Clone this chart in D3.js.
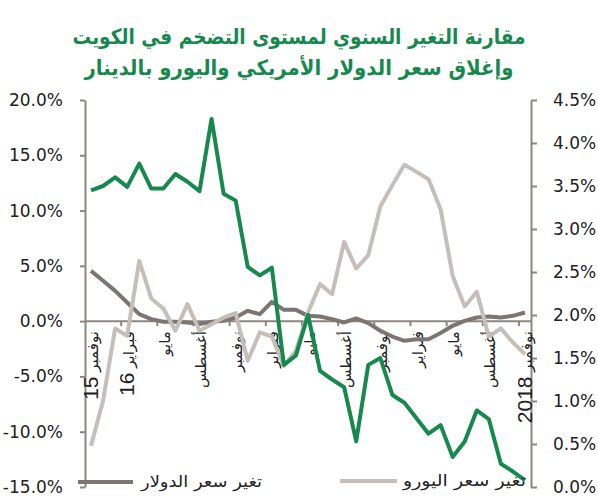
<!DOCTYPE html>
<html><head><meta charset="utf-8">
<script src="https://cdn.jsdelivr.net/npm/d3@7/dist/d3.min.js"></script>
<style>body{margin:0;background:#fff}svg{display:block}</style>
</head><body>
<svg id="c" width="598" height="500"></svg>
<script>
// ---- data ----
const monthNames = ["نوفمبر","ديسمبر","يناير","فبراير","مارس","أبريل","مايو","يونيو","يوليو","أغسطس","سبتمبر","أكتوبر"];
const categories = d3.range(37).map(i => monthNames[i % 12]); // Nov 2015 .. Nov 2018
const yearTags = {0: "15", 3: "16", 36: "2018"};
const inflation = [3.45,3.50,3.60,3.49,3.76,3.47,3.47,3.64,3.55,3.44,4.28,3.41,3.33,2.56,2.46,2.55,1.42,1.53,2.00,1.35,1.25,1.16,0.53,1.42,1.50,1.07,0.98,0.80,0.62,0.72,0.35,0.53,0.89,0.79,0.27,0.18,0.08];
const usdChange = [4.55,3.65,2.74,1.69,0.63,0.18,-0.06,-0.06,-0.12,-0.27,-0.06,0.03,0.33,0.93,0.63,1.75,1.02,1.02,0.48,0.42,0.18,-0.12,0.24,-0.18,-0.87,-1.39,-1.78,-1.63,-1.63,-1.08,-0.42,0.03,0.33,0.42,0.33,0.48,0.78];
const eurChange = [-11.27,-7.2,-0.66,-1.33,5.45,2.05,1.15,-0.87,1.54,-0.87,-0.27,0.33,0.72,-3.59,-1.02,-1.39,-4.04,-2.68,0.78,3.35,2.44,7.17,4.76,5.97,10.37,12.3,14.14,13.5,12.84,10.13,4.1,1.33,2.65,-1.39,-0.66,-1.93,-2.98];
const leftTicks = [-15,-10,-5,0,5,10,15,20];
const rightTicks = [0,0.5,1,1.5,2,2.5,3,3.5,4,4.5];
const titleLines = ["مقارنة التغير السنوي لمستوى التضخم في الكويت","وإغلاق سعر الدولار الأمريكي واليورو بالدينار"];
const legendLabels = ["تغير سعر الدولار","تغير سعر اليورو"];

// ---- styles ----
const GREEN = "#17894f", USD = "#7d7571", EUR = "#c5beb9", AXIS = "#8c8682", TXT = "#222";

const svg = d3.select("#c");
const x = d3.scaleBand().domain(d3.range(categories.length)).range([85, 531]);
const cx = i => x(i) + x.bandwidth() / 2;
const yL = d3.scaleLinear().domain([-15, 20]).range([487, 100]);
const yR = d3.scaleLinear().domain([0, 4.5]).range([487, 100]);

// title
const titleWidths = [453, 429];
svg.append("g").selectAll("text").data(titleLines).join("text")
  .attr("x", 299).attr("y", (d, i) => 44 + i * 31)
  .attr("text-anchor", "middle")
  .attr("textLength", (d, i) => titleWidths[i]).attr("lengthAdjust", "spacingAndGlyphs")
  .attr("font-family", "DejaVu Sans, sans-serif").attr("font-weight", "bold")
  .attr("font-size", 21).attr("fill", GREEN)
  .text(d => d);

// left axis
const gl = svg.append("g").attr("transform", "translate(85,0)")
  .call(d3.axisLeft(yL).tickValues(leftTicks).tickFormat(d => d.toFixed(1) + "%").tickSize(5).tickSizeOuter(0).tickPadding(17));
// right axis
const gr = svg.append("g").attr("transform", "translate(531,0)")
  .call(d3.axisRight(yR).tickValues(rightTicks).tickFormat(d => d.toFixed(1) + "%").tickSize(6).tickSizeOuter(0).tickPadding(16));
[gl, gr].forEach(g => {
  g.select(".domain").attr("stroke", AXIS).attr("stroke-width", 2);
  g.selectAll(".tick line").attr("stroke", AXIS).attr("stroke-width", 2);
  g.selectAll(".tick text").attr("font-family", "DejaVu Sans, sans-serif").attr("font-size", 17).attr("fill", TXT);
});

// category axis at zero
const y0 = yL(0);
svg.append("line").attr("x1", 85).attr("x2", 531).attr("y1", y0).attr("y2", y0)
  .attr("stroke", AXIS).attr("stroke-width", 2);
const tickIdx = d3.range(3, categories.length + 1, 3);
svg.append("g").selectAll("line").data(tickIdx).join("line")
  .attr("x1", d => 85 + d * x.step()).attr("x2", d => 85 + d * x.step())
  .attr("y1", y0).attr("y2", y0 + 5).attr("stroke", AXIS).attr("stroke-width", 2);
const labIdx = d3.range(0, categories.length, 3);
const labs = svg.append("g").selectAll("text").data(labIdx).join("text")
  .attr("transform", d => `translate(${cx(d) + 1},${y0 + 10}) rotate(-90)`)
  .attr("dy", "0.35em")
  .attr("direction", "rtl").style("direction", "rtl")
  .attr("text-anchor", "start")
  .attr("font-family", "DejaVu Sans, sans-serif").attr("fill", TXT);
labs.append("tspan").attr("font-size", 15).text(d => categories[d] + (yearTags[d] ? " " : ""));
labs.filter(d => yearTags[d]).append("tspan").attr("font-size", 21)
  .attr("font-family", "Liberation Sans Narrow, Liberation Sans, sans-serif")
  .text(d => yearTags[d]);

// series
const lineL = d3.line().x((d, i) => cx(i)).y(d => yL(d));
const lineR = d3.line().x((d, i) => cx(i)).y(d => yR(d));
svg.append("path").datum(usdChange).attr("d", lineL).attr("fill", "none")
  .attr("stroke", USD).attr("stroke-width", 4).attr("stroke-linejoin", "round");
svg.append("path").datum(eurChange).attr("d", lineL).attr("fill", "none")
  .attr("stroke", EUR).attr("stroke-width", 4).attr("stroke-linejoin", "round");
svg.append("path").datum(inflation).attr("d", lineR).attr("fill", "none")
  .attr("stroke", GREEN).attr("stroke-width", 4).attr("stroke-linejoin", "round");

// legend
const legend = [
  {label: legendLabels[0], color: USD, x1: 78, x2: 133, tx: 262, w: 121, y: 482},
  {label: legendLabels[1], color: EUR, x1: 340, x2: 397, tx: 526, w: 123, y: 481}
];
const lg = svg.append("g").selectAll("g").data(legend).join("g");
lg.append("line").attr("x1", d => d.x1).attr("x2", d => d.x2).attr("y1", d => d.y).attr("y2", d => d.y)
  .attr("stroke", d => d.color).attr("stroke-width", 4);
lg.append("text").attr("x", d => d.tx).attr("y", d => d.y + 5).attr("text-anchor", "end")
  .attr("textLength", d => d.w).attr("lengthAdjust", "spacingAndGlyphs")
  .attr("font-family", "DejaVu Sans, sans-serif").attr("font-size", 16).attr("fill", TXT)
  .text(d => d.label);
</script>
</body></html>
